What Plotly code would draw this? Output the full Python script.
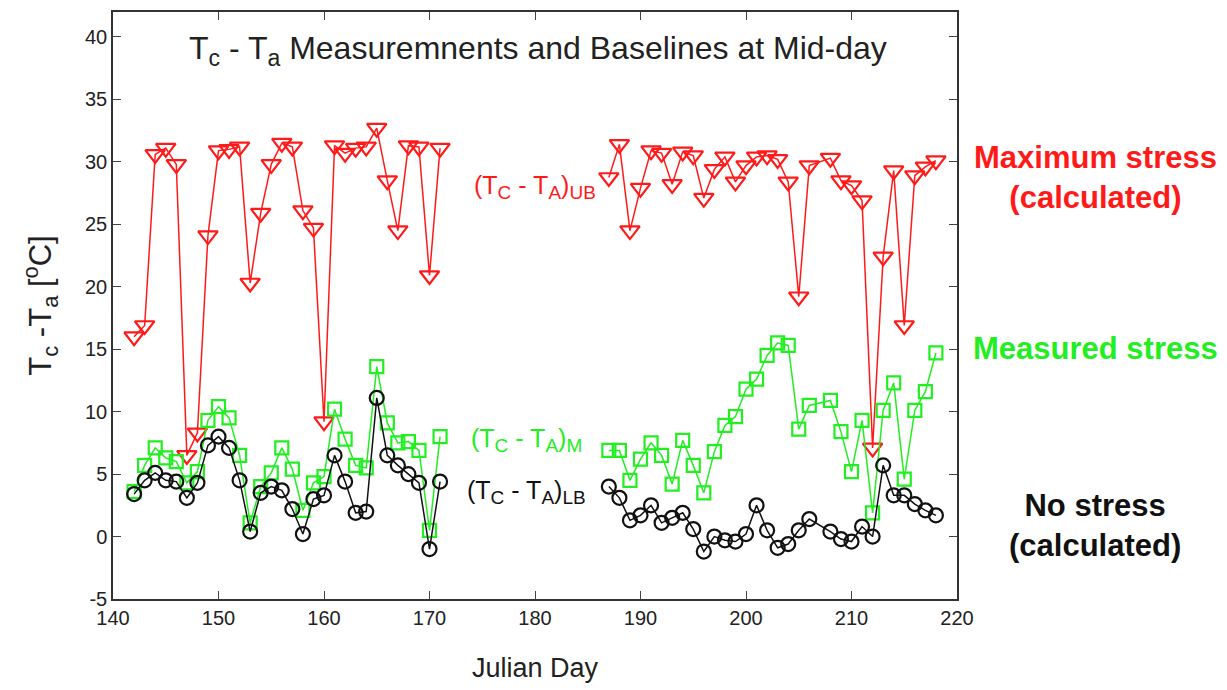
import plotly.graph_objects as go

# Julian days (gap between 171 and 187, day 207 missing)
days_a = list(range(142, 172))
days_b = [d for d in range(187, 219) if d != 207]

ub_a = [16.0, 16.9, 30.6, 31.1, 29.8, 6.5, 8.3, 24.1, 30.9, 31.0, 31.2, 20.3, 25.9, 29.8, 31.5,
        31.2, 26.1, 24.7, 9.2, 31.3, 30.7, 31.1, 31.2, 32.7, 28.5, 24.5, 31.3, 31.2, 20.9, 31.1]
ub_b = [28.75, 31.4, 24.5, 27.9, 30.9, 30.7, 28.2, 30.8, 30.5, 27.1, 29.4, 30.4, 28.4, 29.7, 30.4,
        30.5, 30.2, 28.4, 19.2, 29.7, 30.3, 28.5, 28.1, 26.9, 7.1, 22.4, 29.3, 16.9, 28.9, 29.6, 30.1]

m_a = [3.6, 5.7, 7.1, 6.3, 6.0, 4.3, 5.2, 9.3, 10.4, 9.5, 6.5, 1.1, 4.0, 5.1, 7.1,
       5.4, 2.1, 4.3, 4.8, 10.2, 7.8, 5.7, 5.5, 13.6, 9.1, 7.5, 7.6, 6.9, 0.5, 8.0]
m_b = [6.9, 6.9, 4.5, 6.2, 7.5, 6.5, 4.2, 7.7, 5.7, 3.5, 6.8, 8.9, 9.6, 11.8, 12.6,
       14.5, 15.5, 15.3, 8.6, 10.5, 10.9, 8.4, 5.2, 9.3, 1.9, 10.1, 12.3, 4.6, 10.1, 11.6, 14.7]

lb_a = [3.4, 4.5, 5.1, 4.5, 4.4, 3.1, 4.3, 7.3, 8.0, 7.1, 4.5, 0.4, 3.5, 4.0, 3.7,
        2.2, 0.2, 3.0, 3.3, 6.5, 4.4, 1.9, 2.0, 11.1, 6.5, 5.7, 5.0, 4.3, -1.0, 4.4]
lb_b = [4.0, 3.1, 1.3, 1.7, 2.5, 1.1, 1.5, 1.9, 0.6, -1.2, 0.0, -0.3, -0.4, 0.2, 2.5,
        0.5, -0.9, -0.6, 0.5, 1.4, 0.4, -0.2, -0.4, 0.8, 0.0, 5.7, 3.3, 3.3, 2.6, 2.1, 1.7]

x_ticks = list(range(140, 221, 10))
y_ticks = list(range(-5, 41, 5))
y_tick_text = [str(v) for v in y_ticks]

RED = "#ff1a1a"
GREEN = "#22ee22"
BLACK = "#111111"
FONT = "Liberation Sans, Arial, sans-serif"


def series(a, b):
    # None breaks the line across the summer gap
    return days_a + [None] + days_b, a + [None] + b


def sub(s, px):
    return f'<sub><span style="font-size:{px}px">{s}</span></sub>'


fig = go.Figure()

for (a, b), color, symbol, size in [
    ((ub_a, ub_b), RED, "triangle-down-open", 17),
    ((m_a, m_b), GREEN, "square-open", 13),
    ((lb_a, lb_b), BLACK, "circle-open", 14),
]:
    x, y = series(a, b)
    fig.add_trace(go.Scatter(
        x=x, y=y, mode="lines+markers", connectgaps=False,
        line=dict(color=color, width=1.5),
        marker=dict(symbol=symbol, size=size, color=color, line=dict(color=color, width=2.2)),
        showlegend=False,
    ))

# page body keeps an 8px margin, so the figure is a bit smaller than the window
fig.update_layout(
    width=1219, height=682,
    margin=dict(l=105, r=270, t=2, b=91),
    paper_bgcolor="white", plot_bgcolor="white",
    font=dict(family=FONT, size=20, color="#222"),
    xaxis=dict(
        range=[140, 220], tickvals=x_ticks, ticks="inside", ticklen=8, mirror="ticks",
        showline=True, linecolor="#333", linewidth=1.5, showgrid=False, zeroline=False,
        title=dict(text="Julian Day", font=dict(size=27), standoff=30),
    ),
    yaxis=dict(
        range=[-5, 42], tickvals=y_ticks, ticktext=y_tick_text, ticks="inside", ticklen=8,
        mirror="ticks", showline=True, linecolor="#333", linewidth=1.5, showgrid=False,
        zeroline=False,
        title=dict(text="T" + sub("c", 22) + " -T" + sub("a", 22) + " [<sup>o</sup>C]",
                   font=dict(size=31), standoff=24),
    ),
)

fig.add_annotation(x=180.3, y=38.9, xref="x", yref="y",
                   text="T" + sub("c", 23) + " - T" + sub("a", 23)
                   + " Measuremnents and Baselines at Mid-day",
                   showarrow=False, font=dict(size=32, color="#222"))
fig.add_annotation(x=180, y=28.0, text="(T" + sub("C", 19) + " - T" + sub("A", 19) + ")" + sub("UB", 19),
                   showarrow=False, font=dict(size=25, color=RED))
fig.add_annotation(x=179.2, y=7.7, text="(T" + sub("C", 19) + " - T" + sub("A", 19) + ")" + sub("M", 19),
                   showarrow=False, font=dict(size=25, color=GREEN))
fig.add_annotation(x=179.2, y=3.6, text="(T" + sub("C", 19) + " - T" + sub("A", 19) + ")" + sub("LB", 19),
                   showarrow=False, font=dict(size=25, color=BLACK))

for txt, color, ypx in [
    ("<b>Maximum stress<br>(calculated)</b>", RED, 176),
    ("<b>Measured stress</b>", GREEN, 348),
    ("<b>No stress<br>(calculated)</b>", BLACK, 525),
]:
    fig.add_annotation(
        x=(1095 - 113) / (957 - 113), y=(599 - ypx) / (599 - 10),
        xref="paper", yref="paper", xanchor="center", yanchor="middle",
        text=txt, showarrow=False, align="center",
        font=dict(size=31, color=color),
    )

fig.write_html("out.html")
